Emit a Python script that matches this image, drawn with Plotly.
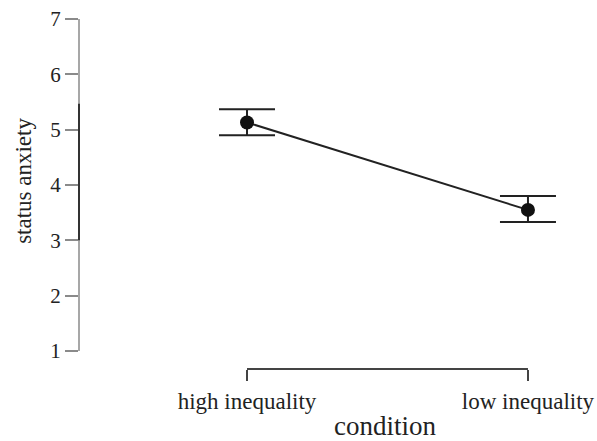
import plotly.graph_objects as go

categories = ["high inequality", "low inequality"]
means = [5.13, 3.55]
upper = [5.37, 3.80]
lower = [4.90, 3.33]
y_ticks = [1, 2, 3, 4, 5, 6, 7]
dark_span = [3.0, 5.47]

xpos = list(range(len(categories)))
err_plus = [u - m for u, m in zip(upper, means)]
err_minus = [m - l for m, l in zip(means, lower)]

serif = "Liberation Serif, Times New Roman, serif"

fig = go.Figure()
fig.add_trace(go.Scatter(
    x=xpos, y=means, mode="lines+markers",
    line=dict(color="#222222", width=2),
    marker=dict(size=14, color="#111111"),
    error_y=dict(type="data", symmetric=False, array=err_plus, arrayminus=err_minus,
                 color="#222222", thickness=2, width=28),
    showlegend=False, cliponaxis=False, hoverinfo="skip",
))

shapes = [
    dict(type="line", xref="paper", yref="y", x0=0, x1=0, y0=min(y_ticks), y1=max(y_ticks),
         line=dict(color="#8a8a8a", width=1.5)),
    dict(type="line", xref="paper", yref="y", x0=0, x1=0, y0=dark_span[0], y1=dark_span[1],
         line=dict(color="#333333", width=2)),
    dict(type="line", xref="x", yref="paper", x0=xpos[0], x1=xpos[-1], y0=0, y1=0,
         line=dict(color="#444444", width=2)),
]

fig.update_layout(
    template="none",
    width=597, height=441,
    margin=dict(l=79, r=12, t=10, b=72, autoexpand=False),
    paper_bgcolor="white", plot_bgcolor="white",
    shapes=shapes,
    xaxis=dict(range=[-0.598, 1.203], tickmode="array", tickvals=xpos, ticktext=categories,
               showgrid=False, zeroline=False, showline=False, automargin=False,
               ticks="outside", ticklen=11, tickwidth=2, tickcolor="#444444",
               tickfont=dict(family=serif, size=23, color="#222222")),
    yaxis=dict(range=[0.675, 7.162], tickmode="array", tickvals=y_ticks,
               showgrid=False, zeroline=False, showline=False, automargin=False,
               ticks="outside", ticklen=13, tickwidth=1.5, tickcolor="#8a8a8a",
               tickfont=dict(family=serif, size=21, color="#222222")),
    annotations=[
        dict(text="status anxiety", xref="paper", yref="paper", x=-0.11, y=0.525,
             textangle=-90, showarrow=False, xanchor="center", yanchor="middle",
             font=dict(family=serif, size=23, color="#222222")),
        dict(text="condition", xref="x", yref="paper", x=0.49, y=-0.158,
             showarrow=False, xanchor="center", yanchor="middle",
             font=dict(family=serif, size=27, color="#222222")),
    ],
)

fig.write_html("out.html", config={"displayModeBar": False},
               post_script="document.body.style.margin='0px';document.body.style.overflow='hidden';")
